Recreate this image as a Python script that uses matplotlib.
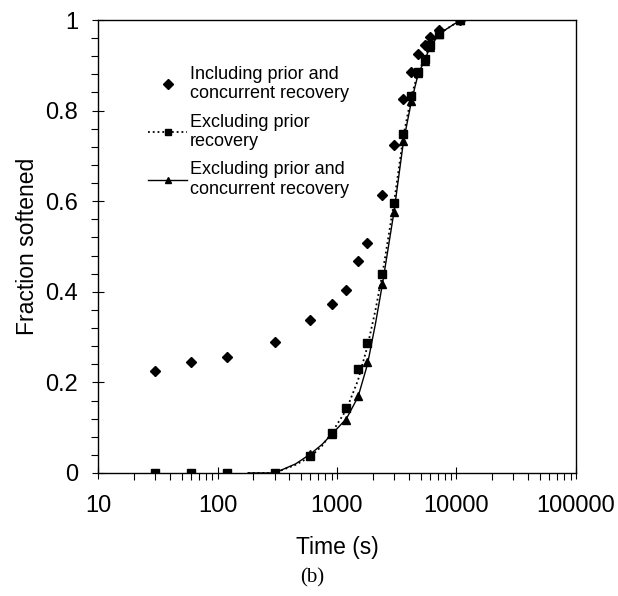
import matplotlib
matplotlib.use("Agg")
from matplotlib import pyplot as plt
from matplotlib.lines import Line2D
from matplotlib.ticker import FixedLocator, NullFormatter

plt.rcParams['font.family'] = ['Liberation Sans', 'DejaVu Sans']

# measured times (s)
time = [30, 60, 120, 300, 600, 900, 1200, 1500, 1800, 2400, 3000,
        3600, 4200, 4800, 5400, 6000, 7200, 10800]

incl_prior_conc = [0.225, 0.245, 0.255, 0.29, 0.337, 0.374, 0.405, 0.469,
                   0.508, 0.614, 0.723, 0.826, 0.885, 0.924, 0.945, 0.963,
                   0.979, 1.0]
excl_prior = [0.0, 0.0, 0.0, 0.0, 0.038, 0.088, 0.143, 0.229, 0.287, 0.44,
              0.597, 0.748, 0.833, 0.886, 0.915, 0.945, 0.97, 1.0]
excl_prior_conc = [0.0, 0.0, 0.0, 0.0, 0.043, 0.085, 0.117, 0.17, 0.244,
                   0.417, 0.577, 0.732, 0.821, 0.883, 0.91, 0.94, 0.97, 1.0]

# fitted curves
curve_time = [180, 300, 450, 600, 750, 900, 1200, 1500, 1800, 2100, 2400,
              3000, 3600, 4200, 4800, 5400, 6000, 7200, 10800, 100000]
curve_excl_prior = [0.0, 0.0, 0.018, 0.036, 0.06, 0.088, 0.14, 0.205,
                    0.28, 0.36, 0.44, 0.597, 0.745, 0.833, 0.886, 0.915,
                    0.943, 0.97, 1.0, 1.0]
curve_excl_prior_conc = [0.0, 0.0, 0.02, 0.042, 0.063, 0.085, 0.12, 0.168,
                         0.24, 0.33, 0.417, 0.577, 0.732, 0.821, 0.883,
                         0.91, 0.94, 0.97, 1.0, 1.0]

fig = plt.figure(figsize=(6.18, 5.96), dpi=100)
ax = fig.add_axes([0.1586, 0.2064, 0.7734, 0.76])

ax.plot(curve_time, curve_excl_prior, color='k', linestyle=':', linewidth=1.3)
ax.plot(curve_time, curve_excl_prior_conc, color='k', linestyle='-', linewidth=1.0)
ax.plot(time, incl_prior_conc, linestyle='none', marker='D', color='k', markersize=5)
ax.plot(time, excl_prior, linestyle='none', marker='s', color='k', markersize=6)
ax.plot(time, excl_prior_conc, linestyle='none', marker='^', color='k', markersize=6)

ax.set_xscale('log')
ax.set_xlim(10, 100000)
ax.set_ylim(0, 1)
ax.set_xticks([10, 100, 1000, 10000, 100000])
ax.set_xticklabels(['10', '100', '1000', '10000', '100000'])
ax.set_yticks([0, 0.2, 0.4, 0.6, 0.8, 1.0])
ax.set_yticklabels(['0', '0.2', '0.4', '0.6', '0.8', '1'])
ax.yaxis.set_minor_locator(FixedLocator([i * 0.04 for i in range(26)]))
ax.xaxis.set_minor_formatter(NullFormatter())
ax.tick_params(which='major', direction='inout', length=9, width=0.8, labelsize=17)
ax.tick_params(which='minor', direction='out', length=5, width=0.8)
ax.tick_params(axis='x', which='major', pad=11)
ax.tick_params(axis='y', which='major', pad=10)
for s in ax.spines.values():
    s.set_linewidth(1.0)

ax.set_xlabel('Time (s)', fontsize=16.5, labelpad=14)
ax.set_ylabel('Fraction softened', fontsize=16.5, labelpad=4)

handles = [
    Line2D([], [], linestyle='none', marker='D', color='k', markersize=5),
    Line2D([], [], linestyle=':', marker='s', color='k', markersize=5, linewidth=1.3),
    Line2D([], [], linestyle='-', marker='^', color='k', markersize=5, linewidth=1.0),
]
labels = ['Including prior and\nconcurrent recovery',
          'Excluding prior\nrecovery',
          'Excluding prior and\nconcurrent recovery']
ax.legend(handles, labels, loc='upper left', bbox_to_anchor=(0.07, 0.935),
          frameon=False, fontsize=13, handlelength=2.2, handletextpad=0.15,
          labelspacing=0.62)

fig.text(0.505, 0.022, '(b)', fontsize=15, family='Liberation Serif', ha='center')

fig.savefig('out.png', dpi=100)
